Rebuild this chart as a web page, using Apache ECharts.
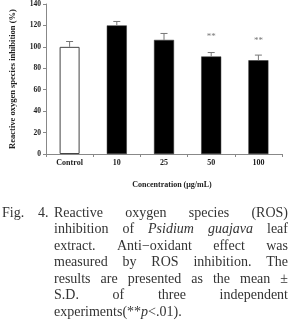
<!DOCTYPE html>
<html><head><meta charset="utf-8">
<script src="https://cdn.jsdelivr.net/npm/echarts@6/dist/echarts.min.js"></script>
<style>html,body{margin:0;padding:0;background:#fff;}#c{width:290px;height:327px;}</style>
</head><body><div id="c"></div>
<script>
const categories = ['Control', '10', '25', '50', '100'];
const means = [100, 120, 106.5, 91, 87.5];
const sds = [5, 3.7, 6, 3.7, 4.8];
const sigMarks = ['', '', '', '**', '**'];
const yTicks = [0, 20, 40, 60, 80, 100, 120, 140];
const yName = 'Reactive oxygen species inhibition (%)';
const xName = 'Concentration (\u03bcg/mL)';
const captionLines = [
  'Reactive oxygen species (ROS)',
  'inhibition of _Psidium_ _guajava_ leaf',
  'extract. Anti\u2212oxidant effect was',
  'measured by ROS inhibition. The',
  'results are presented as the mean \u00b1',
  'S.D. of three independent',
  'experiments(**_p_<.01).'
];

const chart = echarts.init(document.getElementById('c'), null, {renderer: 'canvas'});
const serif = '"Liberation Serif", "DejaVu Serif", serif';
const capSize = 14;
const ctx = document.createElement('canvas').getContext('2d');
function segs(tok){
  const parts = tok.split('_');
  return parts.map((t,i)=>({t, it: i%2===1})).filter(s=>s.t.length);
}
function measure(tok){
  let w=0;
  segs(tok).forEach(s=>{ctx.font=(s.it?'italic ':'')+capSize+'px '+serif; w+=ctx.measureText(s.t).width;});
  return w;
}
function richText(tok){
  return segs(tok).map(s=>'{'+(s.it?'i':'n')+'|'+s.t.replace(/[{}|]/g,'')+'}').join('');
}
const rich = {
  n: {fontFamily: serif, fontSize: capSize, fill: '#333', color:'#333'},
  i: {fontFamily: serif, fontSize: capSize, fontStyle: 'italic', fill: '#333', color:'#333'}
};
const graphics = [];
const lineY0 = 213, lineH = 16.5, xL = 54, xR = 288;
function addText(x, y, tok){
  graphics.push({type:'text', x, y, style:{text: richText(tok), rich, fontFamily: serif, fontSize: capSize, fill:'#333', textVerticalAlign:'middle', verticalAlign:'middle', align:'left'}});
}
addText(2, lineY0, 'Fig.');
addText(38, lineY0, '4.');
captionLines.forEach((ln, li)=>{
  const y = lineY0 + li*lineH;
  const toks = ln.split(' ');
  const last = li === captionLines.length-1;
  if (last || toks.length === 1) { addText(xL, y, ln); return; }
  const ws = toks.map(measure);
  const sum = ws.reduce((a,b)=>a+b,0);
  const gap = (xR - xL - sum)/(toks.length-1);
  let x = xL;
  toks.forEach((t,i)=>{ addText(x, y, t); x += ws[i] + gap; });
});
graphics.push({type:'text', x: 172, y: 185, style:{text: xName, fontFamily: serif, fontSize: 8, fontWeight:'bold', fill:'#222', align:'center', verticalAlign:'middle'}});

chart.setOption({
  animation: false,
  backgroundColor: '#fff',
  grid: {left: 42, right: 8, top: 3, height: 151},
  xAxis: {
    type: 'category', data: categories,
    axisLine: {lineStyle: {color: '#888', width: 1}},
    axisTick: {show: true, alignWithLabel: false, length: 3, lineStyle: {color: '#888'}},
    axisLabel: {color: '#222', fontFamily: serif, fontSize: 8, fontWeight: 'bold', margin: 5}
  },
  yAxis: {
    type: 'value', min: 0, max: 140, interval: 20,
    name: yName, nameLocation: 'middle', nameGap: 29, nameRotate: 90,
    nameTextStyle: {color: '#222', fontFamily: serif, fontSize: 8.5, fontWeight: 'bold'},
    axisLine: {show: true, lineStyle: {color: '#888', width: 1}},
    axisTick: {show: true, length: 3, lineStyle: {color: '#888'}},
    axisLabel: {color: '#222', fontFamily: serif, fontSize: 7.5, fontWeight: 'bold', margin: 5,
      formatter: v => yTicks.includes(v) ? String(v) : ''},
    splitLine: {show: false}
  },
  series: [
    {
      type: 'bar', barWidth: 20,
      data: means.map((v,i)=>({value: v, itemStyle: i===0 ? {color:'#fff', borderColor:'#444', borderWidth:1} : {color:'#000', borderColor:'#333', borderWidth:0.5}})),
      label: {show: true, position: 'top', distance: 15, color: '#777', fontSize: 9, fontFamily: serif,
        formatter: p => sigMarks[p.dataIndex]},
      z: 2
    },
    {
      type: 'custom', z: 3,
      renderItem: (params, api) => {
        const i = api.value(0), m = api.value(1), s = api.value(2);
        const p0 = api.coord([i, m]);
        const p1 = api.coord([i, m + s]);
        const st = {stroke: '#777', lineWidth: 1};
        return {type: 'group', children: [
          {type:'line', shape:{x1:p0[0], y1:p0[1], x2:p1[0], y2:p1[1]}, style: st},
          {type:'line', shape:{x1:p1[0]-3.5, y1:p1[1], x2:p1[0]+3.5, y2:p1[1]}, style: st}
        ]};
      },
      data: means.map((v,i)=>[i, v, sds[i]])
    }
  ],
  graphic: graphics
});
</script></body></html>
